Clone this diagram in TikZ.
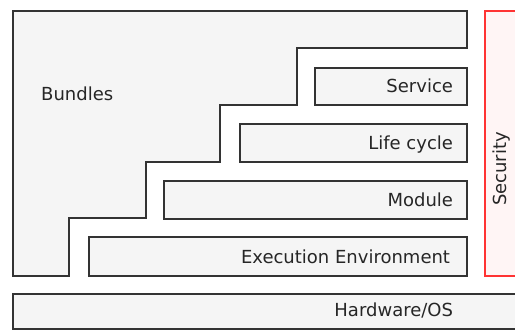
\documentclass[tikz,border=0pt]{standalone}
\usepackage{fontspec}
\setmainfont{DejaVu Sans}
\begin{document}
\begin{tikzpicture}[x=1pt,y=-1pt,
  layer/.style={draw=black!80,line width=2pt,fill=black!4},
  sec/.style={draw=red!80,line width=1.6pt,fill=red!4},
  lbl/.style={font=\fontsize{18}{18}\selectfont,text=black!85,inner sep=0pt}]
\useasboundingbox (0,0) rectangle (515,330);
\begin{scope}
\clip (0,0) rectangle (515,330);
% Bundles stair shape
\draw[layer] (13,11) -- (467,11) -- (467,48) -- (297,48) -- (297,105) -- (220,105)
  -- (220,162) -- (146,162) -- (146,218) -- (69,218) -- (69,276) -- (13,276) -- cycle;
\node[lbl,anchor=base west] (bundles) at (41,100) {Bundles};
% layers
\draw[layer] (315,68) rectangle (467,105) node[lbl,anchor=base east] (service) at (454,92) {Service};
\draw[layer] (240,124) rectangle (467,162) node[lbl,anchor=base east] (life) at (454,149) {Life cycle};
\draw[layer] (164,181) rectangle (467,219) node[lbl,anchor=base east] (module) at (454,206) {Module};
\draw[layer] (89,237) rectangle (467,276) node[lbl,anchor=base east] (exec) at (451,263) {Execution Environment};
\draw[layer] (13,294) rectangle (530,329) node[lbl,anchor=base east] (hw) at (454,316) {Hardware/OS};
% security
\draw[sec] (485,11) rectangle (530,276);
\node[lbl,rotate=90,anchor=center] (security) at (502,169) {Security};
\end{scope}
\end{tikzpicture}
\end{document}
